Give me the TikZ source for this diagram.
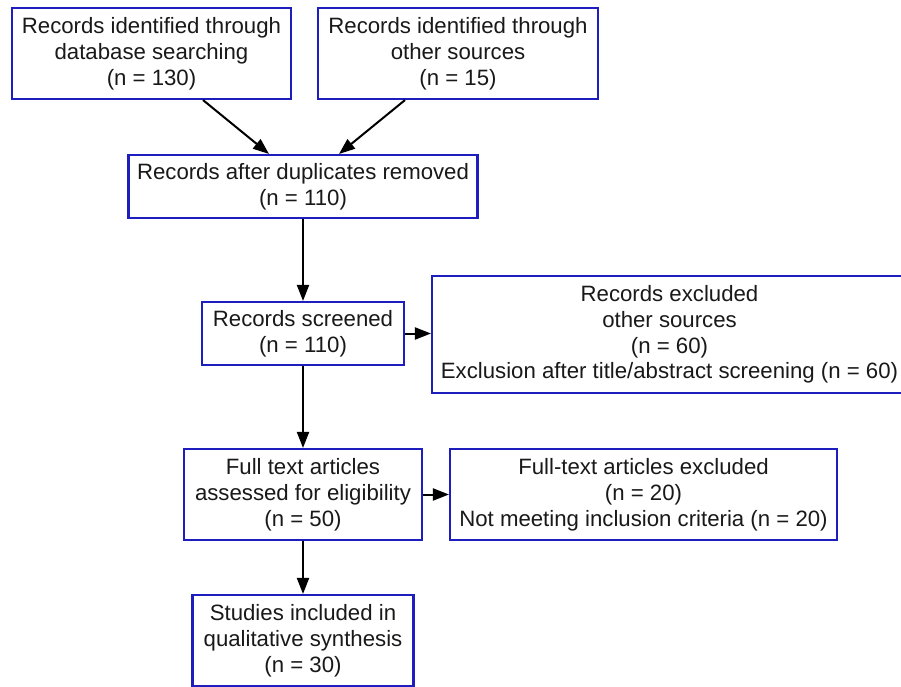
\documentclass[tikz,border=0pt]{standalone}
\usepackage{fontspec}
\setmainfont{Liberation Sans}
\usetikzlibrary{arrows.meta}
\definecolor{boxblue}{RGB}{30,30,190}
\tikzset{
  box/.style={draw=boxblue,line width=2.1pt,fill=white,align=center,inner sep=0pt,
              font=\fontsize{22.2}{25.8}\selectfont,text=black!90},  % flow box
  arrow/.style={-{Triangle[length=16pt,width=12pt]},line width=2pt,black},
}

\begin{document}
\begin{tikzpicture}[x=1pt,y=-1pt]
  \useasboundingbox (0,0) rectangle (901,687);
  % top row
  \node[box,minimum width=279pt,minimum height=91pt] (db) at (151.5,53.5)
    {Records identified through\\database searching\\(n = 130)};
  \node[box,minimum width=280pt,minimum height=91pt] (other) at (458,53.5)
    {Records identified through\\other sources\\(n = 15)};
  % main column
  \node[box,minimum width=349pt,minimum height=63pt] (dup) at (303,186.5)
    {Records after duplicates removed\\(n = 110)};
  \node[box,minimum width=202pt,minimum height=63pt] (scr) at (303,333.5)
    {Records screened\\(n = 110)};
  \node[box,minimum width=238pt,minimum height=91pt] (full) at (303,494.5)
    {Full text articles\\assessed for eligibility\\(n = 50)};
  \node[box,minimum width=221pt,minimum height=91pt] (incl) at (303,640.5)
    {Studies included in\\qualitative synthesis\\(n = 30)};
  % exclusions
  \node[box,minimum width=475pt,minimum height=117pt] (excl) at (669.5,334.5)
    {Records excluded\\other sources\\(n = 60)\\Exclusion after title/abstract screening (n = 60)};
  \node[box,minimum width=387pt,minimum height=91pt] (ftexcl) at (643.5,494.5)
    {Full-text articles excluded\\(n = 20)\\Not meeting inclusion criteria (n = 20)};

  \draw[arrow] ([xshift=51.5pt]db.south) -- ([xshift=-34pt]dup.north);
  \draw[arrow] ([xshift=-53pt]other.south) -- ([xshift=36pt]dup.north);
  \draw[arrow] (dup) -- (scr);
  \draw[arrow] (scr.east) -- (scr.east -| excl.west);
  \draw[arrow] (scr) -- (full);
  \draw[arrow] (full) -- (ftexcl);
  \draw[arrow] (full) -- (incl);
\end{tikzpicture}
\end{document}
